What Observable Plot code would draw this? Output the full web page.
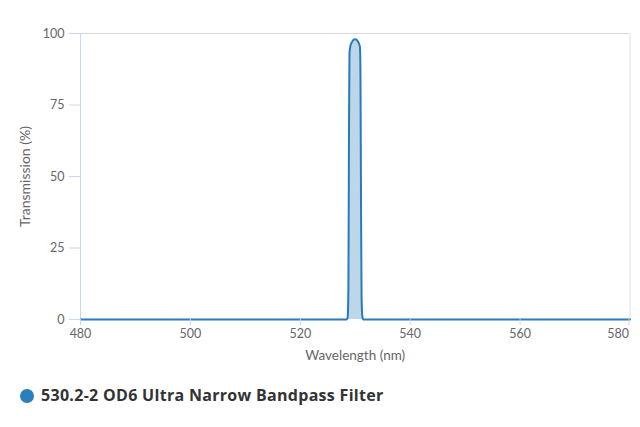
<!DOCTYPE html>
<html>
<head>
<meta charset="utf-8">
<script src="https://cdn.jsdelivr.net/npm/d3@7"></script>
<script src="https://cdn.jsdelivr.net/npm/@observablehq/plot@0.6"></script>
<style>
  body { margin: 0; background: #fff; }
  #legend { position: relative; height: 57px; font-family: "Open Sans", sans-serif; }
  #legend .dot { position: absolute; left: 20px; top: 19px; width: 14px; height: 14px; border-radius: 50%; background: #2b7fbd; }
  #legend .txt { position: absolute; left: 41px; top: 14px; font-size: 16px; letter-spacing: 0.3px; font-weight: 700; color: #333; white-space: nowrap; }
</style>
</head>
<body>
<div id="chart"></div>
<div id="legend"><span class="dot"></span><span class="txt"></span></div>
<script>
const seriesName = "530.2-2 OD6 Ultra Narrow Bandpass Filter";
const xTitle = "Wavelength (nm)";
const yTitle = "Transmission (%)";
const wavelength = [480, 528.4, 528.6, 528.75, 528.85, 528.95, 529.1, 529.4, 529.7, 530.0, 530.3, 530.6, 530.85, 530.95, 531.05, 531.15, 531.3, 531.45, 580];
const transmission = [0, 0, 0.5, 10, 60, 93, 95.5, 97, 97.8, 98, 97.7, 96.8, 95.3, 85, 40, 8, 1, 0, 0];
const xTicks = [480, 500, 520, 540, 560];
const xLastTick = [580];
const yTicks = [0, 25, 50, 75, 100];

const data = wavelength.map((w, i) => ({w, t: transmission[i]}));

const chart = Plot.plot({
  width: 640,
  height: 370,
  marginLeft: 80,
  marginRight: 10.5,
  marginTop: 33,
  marginBottom: 51,
  style: {fontFamily: "Lato, sans-serif", fontSize: "12px", background: "#fff"},
  x: {domain: [480, 580]},
  y: {domain: [0, 100]},
  marks: [
    Plot.ruleY([100], {stroke: "#d8d8d8", strokeWidth: 1}),
    Plot.ruleX([580], {stroke: "#e0e0e0", strokeWidth: 1}),
    Plot.ruleX([480], {stroke: "#ccd6eb", strokeWidth: 1}),
    Plot.areaY(data, {x: "w", y: "t", fill: "#bdd7ea", curve: "monotone-x"}),
    Plot.lineY(data, {x: "w", y: "t", stroke: "#2a7ab9", strokeWidth: 2, curve: "monotone-x"}),
    Plot.axisY({ticks: yTicks, tickSize: 11, tickPadding: 5, stroke: "#ccd6eb", fill: "#666", label: null, fontSize: 12.5}),
    Plot.axisX({ticks: xTicks, tickSize: 6, tickPadding: 4, stroke: "#ccd6eb", fill: "#666", label: null, fontSize: 12.5}),
    Plot.axisX({ticks: xLastTick, tickSize: 6, tickPadding: 4, stroke: "#ccd6eb", fill: "#666",
      textAnchor: "end", dx: -1, label: null, fontSize: 12.5}),
    Plot.text([yTitle], {frameAnchor: "left", textAnchor: "middle", lineAnchor: "middle", rotate: -90, dx: -55, fontSize: 14, fill: "#666"}),
    Plot.text([xTitle], {frameAnchor: "bottom", textAnchor: "middle", lineAnchor: "middle", dy: 36, fontSize: 13.5, fill: "#666"})
  ]
});
document.getElementById("chart").appendChild(chart);
document.querySelector("#legend .txt").textContent = seriesName;
</script>
</body>
</html>
